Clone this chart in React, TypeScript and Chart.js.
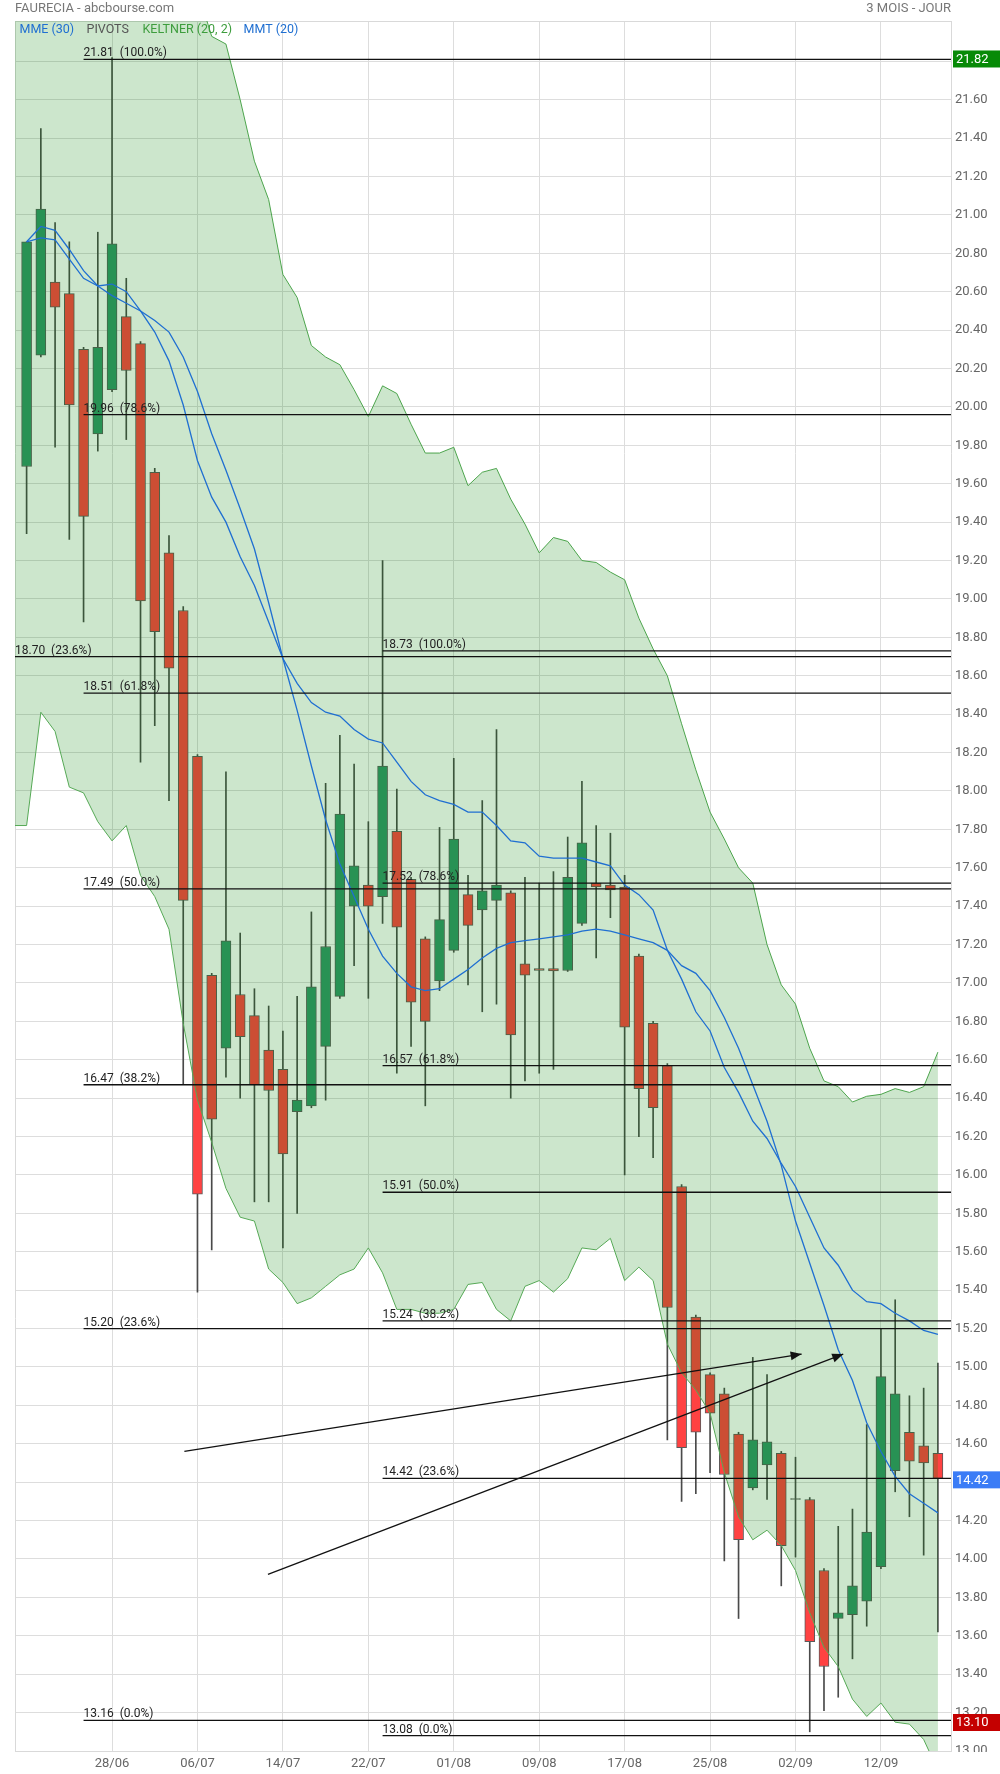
import React, { useEffect, useRef } from 'react';
import { Chart, registerables } from 'chart.js';

Chart.register(...registerables);

// ---- axis ranges -------------------------------------------------------
const X_MIN = -0.815;
const X_MAX = 64.92;
const Y_MIN = 13.0;
const Y_MAX = 22.01;

// ---- tick labels --------------------------------------------------------
const xTickIndex = [6, 12, 18, 24, 30, 36, 42, 48, 54, 60];
const xTickLabels = ['28/06', '06/07', '14/07', '22/07', '01/08', '09/08', '17/08', '25/08', '02/09', '12/09'];
const yTickValues = [
  13.0, 13.2, 13.4, 13.6, 13.8, 14.0, 14.2, 14.4, 14.6, 14.8, 15.0, 15.2, 15.4, 15.6, 15.8,
  16.0, 16.2, 16.4, 16.6, 16.8, 17.0, 17.2, 17.4, 17.6, 17.8, 18.0, 18.2, 18.4, 18.6, 18.8,
  19.0, 19.2, 19.4, 19.6, 19.8, 20.0, 20.2, 20.4, 20.6, 20.8, 21.0, 21.2, 21.4, 21.6, 21.8,
];

// ---- daily candles (20/06 .. 16/09) -------------------------------------
const candleOpen = [
  19.69, 20.27, 20.65, 20.59, 20.30, 19.86, 20.09, 20.47, 20.33, 19.66,
  19.24, 18.94, 18.18, 17.04, 16.66, 16.94, 16.83, 16.65, 16.55, 16.33,
  16.36, 16.67, 16.93, 17.40, 17.51, 17.45, 17.79, 17.54, 17.23, 17.01,
  17.17, 17.46, 17.38, 17.43, 17.47, 17.10, 17.075, 17.075, 17.065, 17.31,
  17.52, 17.51, 17.50, 17.14, 16.79, 16.57, 15.94, 15.26, 14.96, 14.86,
  14.65, 14.37, 14.49, 14.55, 14.315, 14.31, 13.94, 13.69, 13.71, 13.78,
  13.96, 14.46, 14.66, 14.59, 14.55,
];
const candleHigh = [
  20.86, 21.45, 20.96, 20.86, 20.31, 20.91, 21.82, 20.67, 20.34, 19.68,
  19.33, 18.96, 18.19, 17.05, 18.10, 17.26, 16.97, 16.88, 16.75, 16.93,
  17.37, 18.04, 18.29, 18.14, 17.84, 19.20, 18.01, 17.55, 17.24, 17.81,
  18.17, 17.56, 17.95, 18.32, 17.48, 17.55, 17.52, 17.58, 17.76, 18.05,
  17.82, 17.78, 17.56, 17.15, 16.80, 16.58, 15.95, 15.27, 14.97, 14.89,
  14.66, 15.05, 14.96, 14.56, 14.53, 14.32, 13.95, 14.17, 14.26, 14.70,
  15.20, 15.35, 14.85, 14.89, 15.02,
];
const candleLow = [
  19.34, 20.26, 19.79, 19.31, 18.88, 19.77, 20.08, 19.83, 18.15, 18.34,
  17.95, 16.47, 15.39, 15.61, 16.51, 16.40, 15.86, 15.86, 15.62, 15.80,
  16.35, 16.39, 16.92, 17.09, 16.92, 17.31, 16.53, 16.67, 16.36, 16.96,
  17.16, 16.99, 16.85, 16.89, 16.40, 16.49, 16.53, 16.55, 17.06, 17.30,
  17.13, 17.34, 16.00, 16.20, 16.09, 14.62, 14.30, 14.34, 14.45, 13.99,
  13.69, 14.36, 14.31, 13.86, 14.01, 13.10, 13.21, 13.28, 13.48, 13.65,
  13.95, 14.35, 14.22, 14.02, 13.62,
];
const candleClose = [
  20.86, 21.03, 20.52, 20.01, 19.43, 20.31, 20.85, 20.19, 18.99, 18.83,
  18.64, 17.43, 15.90, 16.29, 17.22, 16.72, 16.47, 16.44, 16.11, 16.39,
  16.98, 17.19, 17.88, 17.61, 17.40, 18.13, 17.29, 16.90, 16.80, 17.33,
  17.75, 17.30, 17.48, 17.51, 16.73, 17.04, 17.065, 17.063, 17.55, 17.73,
  17.50, 17.485, 16.77, 16.45, 16.35, 15.31, 14.58, 14.66, 14.76, 14.44,
  14.10, 14.62, 14.61, 14.07, 14.31, 13.57, 13.44, 13.72, 13.86, 14.14,
  14.95, 14.86, 14.51, 14.50, 14.42,
];

// ---- Keltner (20, 2) -----------------------------------------------------
const keltnerUpper = [
  22.90, 22.85, 22.80, 22.75, 22.70, 22.65, 22.60, 22.55, 22.50, 22.45,
  22.40, 22.30, 22.17, 21.93, 21.89, 21.60, 21.28, 21.08, 20.69, 20.57,
  20.32, 20.26, 20.22, 20.09, 19.95, 20.11, 20.07, 19.91, 19.76, 19.76,
  19.79, 19.59, 19.66, 19.68, 19.52, 19.39, 19.24, 19.32, 19.30, 19.20,
  19.19, 19.14, 19.10, 18.90, 18.74, 18.60, 18.35, 18.11, 17.89, 17.75,
  17.60, 17.52, 17.20, 16.99, 16.89, 16.66, 16.49, 16.46, 16.38, 16.41,
  16.42, 16.45, 16.43, 16.46, 16.64,
];
const keltnerLower = [
  17.82, 18.41, 18.31, 18.02, 17.99, 17.84, 17.74, 17.82, 17.56, 17.45,
  17.28, 16.79, 16.39, 16.17, 15.93, 15.78, 15.76, 15.51, 15.44, 15.33,
  15.36, 15.42, 15.48, 15.51, 15.62, 15.49, 15.30, 15.30, 15.28, 15.28,
  15.30, 15.43, 15.44, 15.30, 15.24, 15.42, 15.45, 15.39, 15.46, 15.62,
  15.61, 15.67, 15.45, 15.52, 15.45, 15.12, 14.97, 14.88, 14.76, 14.45,
  14.22, 14.10, 14.15, 14.07, 13.94, 13.72, 13.54, 13.44, 13.27, 13.18,
  13.25, 13.15, 13.14, 13.06, 12.90,
];

// ---- moving averages ----------------------------------------------------
const mme30 = [
  20.86, 20.94, 20.92, 20.82, 20.71, 20.63, 20.64, 20.60, 20.50, 20.39,
  20.24, 20.01, 19.72, 19.53, 19.40, 19.22, 19.07, 18.88, 18.69, 18.56,
  18.46, 18.41, 18.39, 18.32, 18.27, 18.25, 18.15, 18.05, 17.98, 17.95,
  17.93, 17.89, 17.89, 17.82, 17.74, 17.73, 17.66, 17.65, 17.65, 17.65,
  17.63, 17.61, 17.51, 17.46, 17.38, 17.17, 17.02, 16.85, 16.75, 16.56,
  16.43, 16.28, 16.19, 16.06, 15.94, 15.78, 15.62, 15.53, 15.40, 15.34,
  15.33, 15.28, 15.24, 15.19, 15.17,
];
const mmt20 = [
  20.86, 20.88, 20.87, 20.77, 20.67, 20.63, 20.58, 20.54, 20.50, 20.45,
  20.39, 20.26, 20.08, 19.86, 19.67, 19.47, 19.26, 18.98, 18.69, 18.42,
  18.13, 17.85, 17.62, 17.45, 17.28, 17.14, 17.05, 16.98, 16.96, 16.97,
  17.02, 17.07, 17.13, 17.18, 17.21, 17.22, 17.23, 17.24, 17.25, 17.27,
  17.28, 17.27, 17.25, 17.23, 17.21, 17.17, 17.09, 17.05, 16.96, 16.82,
  16.66, 16.47, 16.28, 16.05, 15.76, 15.54, 15.32, 15.09, 14.93, 14.71,
  14.56, 14.43, 14.34, 14.29, 14.24,
];

// ---- pivots (Fibonacci retracements) --------------------------------------
const fibPct = ['100.0%', '78.6%', '61.8%', '50.0%', '38.2%', '23.6%', '0.0%'];
const fibSet1Start = 4;
const fibSet1Values = [21.81, 19.96, 18.51, 17.49, 16.47, 15.2, 13.16];
const fibSet2Start = 25;
const fibSet2Values = [18.73, 17.52, 16.57, 15.91, 15.24, 14.42, 13.08];
const fibEdgeValues = [18.7];
const fibEdgePct = ['23.6%'];

// ---- hand-drawn arrows (index, price) -----------------------------------
const arrowFromX = [11.08, 16.95];
const arrowFromY = [14.56, 13.92];
const arrowToX = [54.43, 57.35];
const arrowToY = [15.067, 15.067];

// ---- right-side price badges --------------------------------------------
const badgeValues = [21.82, 14.42, 13.1];
const badgeColors = ['#078a07', '#3b7cf6', '#c40000'];

const GREEN = '#33966a';
const RED = '#ff4242';
const FONT = 'Roboto, "Noto Sans", sans-serif';

export default function App() {
  const ref = useRef<HTMLCanvasElement>(null);

  useEffect(() => {
    const canvas = ref.current;
    if (!canvas) return;
    const idx = candleOpen.map((_, i) => i);
    const bodyColors = candleOpen.map((o, i) =>
      Math.abs(candleClose[i] - o) < 0.006 ? '#555555' : candleClose[i] >= o ? GREEN : RED
    );

    const fibLine = (start: number, v: number) => ({
      type: 'line',
      data: [
        { x: start, y: v },
        { x: X_MAX, y: v },
      ],
      borderColor: '#111111',
      borderWidth: 1.3,
      pointRadius: 0,
      fill: false,
      order: 1,
    });

    const datasets: any[] = [
      {
        type: 'bar',
        label: 'wicks',
        data: idx.map((i) => ({ x: i, y: [candleLow[i], candleHigh[i]] })),
        backgroundColor: '#4a4a4a',
        borderWidth: 0,
        barThickness: 1,
        grouped: false,
        order: 10,
      },
      {
        type: 'bar',
        label: 'bodies',
        data: idx.map((i) => ({ x: i, y: [candleOpen[i], candleClose[i]] })),
        backgroundColor: bodyColors,
        borderColor: '#5a5a5a',
        borderWidth: 1,
        borderSkipped: false,
        barThickness: 10,
        grouped: false,
        order: 9,
      },
      {
        type: 'line',
        label: 'keltnerUp',
        data: [{ x: X_MIN, y: keltnerUpper[0] }, ...idx.map((i) => ({ x: i, y: keltnerUpper[i] }))],
        borderColor: '#56a956',
        borderWidth: 1,
        pointRadius: 0,
        fill: false,
        tension: 0,
        order: 5,
      },
      {
        type: 'line',
        label: 'keltnerLow',
        data: [{ x: X_MIN, y: keltnerLower[0] }, ...idx.map((i) => ({ x: i, y: keltnerLower[i] }))],
        borderColor: '#56a956',
        borderWidth: 1,
        pointRadius: 0,
        fill: '-1',
        backgroundColor: 'rgba(0,128,0,0.2)',
        tension: 0,
        order: 4,
      },
      {
        type: 'line',
        label: 'MME (30)',
        data: idx.map((i) => ({ x: i, y: mme30[i] })),
        borderColor: '#1f6fd1',
        borderWidth: 1.3,
        pointRadius: 0,
        fill: false,
        order: 2,
      },
      {
        type: 'line',
        label: 'MMT (20)',
        data: idx.map((i) => ({ x: i, y: mmt20[i] })),
        borderColor: '#1f6fd1',
        borderWidth: 1.3,
        pointRadius: 0,
        fill: false,
        order: 2,
      },
      ...fibSet1Values.map((v) => fibLine(fibSet1Start, v)),
      ...fibSet2Values.map((v) => fibLine(fibSet2Start, v)),
      ...fibEdgeValues.map((v) => fibLine(X_MIN, v)),
      ...arrowFromX.map((fx, k) => ({
        type: 'line',
        data: [
          { x: fx, y: arrowFromY[k] },
          { x: arrowToX[k], y: arrowToY[k] },
        ],
        borderColor: '#111111',
        borderWidth: 1.3,
        pointRadius: 0,
        fill: false,
        order: 0,
      })),
    ];

    const decor = {
      id: 'decor',
      beforeDatasetsDraw(chart: any) {
        const { ctx, chartArea: a } = chart;
        ctx.save();
        ctx.strokeStyle = '#d9d9d9';
        ctx.lineWidth = 1;
        ctx.beginPath();
        ctx.moveTo(a.left + 0.5, a.top);
        ctx.lineTo(a.left + 0.5, a.bottom);
        ctx.moveTo(a.left, a.top + 0.5);
        ctx.lineTo(a.right, a.top + 0.5);
        ctx.stroke();
        ctx.restore();
      },
      afterDatasetsDraw(chart: any) {
        const { ctx } = chart;
        const xs = chart.scales.x;
        const ys = chart.scales.y;
        ctx.save();
        ctx.fillStyle = '#222222';
        ctx.font = `12px ${FONT}`;
        ctx.textAlign = 'left';
        ctx.textBaseline = 'alphabetic';
        const label = (start: number, v: number, pct: string) => {
          const x = xs.getPixelForValue(start);
          const y = ys.getPixelForValue(v);
          ctx.fillText(`${v.toFixed(2)}  (${pct})`, x, y - 3);
        };
        fibSet1Values.forEach((v, k) => label(fibSet1Start, v, fibPct[k]));
        fibSet2Values.forEach((v, k) => label(fibSet2Start, v, fibPct[k]));
        fibEdgeValues.forEach((v, k) => label(X_MIN, v, fibEdgePct[k]));

        // arrow heads
        ctx.fillStyle = '#111111';
        arrowFromX.forEach((fx, k) => {
          const x1 = xs.getPixelForValue(fx);
          const y1 = ys.getPixelForValue(arrowFromY[k]);
          const x2 = xs.getPixelForValue(arrowToX[k]);
          const y2 = ys.getPixelForValue(arrowToY[k]);
          const ang = Math.atan2(y2 - y1, x2 - x1);
          const len = 11;
          const hw = 4.5;
          const bx = x2 - len * Math.cos(ang);
          const by = y2 - len * Math.sin(ang);
          ctx.beginPath();
          ctx.moveTo(x2, y2);
          ctx.lineTo(bx + hw * Math.sin(ang), by - hw * Math.cos(ang));
          ctx.lineTo(bx - hw * Math.sin(ang), by + hw * Math.cos(ang));
          ctx.closePath();
          ctx.fill();
        });
        ctx.restore();
      },
      afterDraw(chart: any) {
        const { ctx, chartArea: a } = chart;
        const ys = chart.scales.y;
        ctx.save();
        // clip price labels below the plot bottom
        ctx.fillStyle = '#ffffff';
        ctx.fillRect(a.right + 1, a.bottom + 1, 1000 - a.right, 30);

        ctx.textBaseline = 'middle';
        ctx.font = `13px ${FONT}`;
        ctx.fillStyle = '#777777';
        ctx.textAlign = 'left';
        ctx.fillText('FAURECIA - abcbourse.com', 15, 8.5);
        ctx.textAlign = 'right';
        ctx.fillText('3 MOIS - JOUR', a.right, 8.5);

        // legend
        ctx.textAlign = 'left';
        ctx.font = `12.5px ${FONT}`;
        const legend: [string, string, number][] = [
          ['MME (30)', '#1f6fd1', 19.5],
          ['PIVOTS', '#555555', 86.5],
          ['KELTNER (20, 2)', '#3d9d3d', 142.5],
          ['MMT (20)', '#1f6fd1', 243.5],
        ];
        legend.forEach(([t, c, x]) => {
          ctx.fillStyle = c;
          ctx.fillText(t, x, 29.5);
        });

        // badges
        ctx.font = `13px ${FONT}`;
        badgeValues.forEach((v, k) => {
          const yp = Math.min(ys.getPixelForValue(v) + 1.5, a.bottom - 28.5);
          ctx.fillStyle = badgeColors[k];
          ctx.fillRect(a.right + 2, yp - 8.5, 1000 - a.right - 2, 17);
          ctx.fillStyle = '#ffffff';
          ctx.fillText(v.toFixed(2), a.right + 5, yp + 0.5);
        });
        ctx.restore();
      },
    };

    const chart = new Chart(canvas, {
      type: 'bar',
      data: { datasets },
      options: {
        animation: false,
        responsive: false,
        maintainAspectRatio: false,
        devicePixelRatio: 1,
        events: [],
        layout: { padding: { left: 15, top: 21, right: 0, bottom: 0 } },
        plugins: {
          legend: { display: false },
          title: { display: false },
          tooltip: { enabled: false },
        },
        scales: {
          x: {
            type: 'linear',
            min: X_MIN,
            max: X_MAX,
            offset: false,
            grid: { color: '#dddddd', drawTicks: false, offset: false },
            border: { display: true, color: '#d9d9d9' },
            afterBuildTicks: (s: any) => {
              s.ticks = xTickIndex.map((v) => ({ value: v }));
            },
            afterFit: (s: any) => {
              s.height = 23;
            },
            ticks: {
              autoSkip: false,
              maxRotation: 0,
              padding: 5,
              color: '#666666',
              font: { family: FONT, size: 13 },
              callback: (v: any) => {
                const k = xTickIndex.indexOf(Number(v));
                return k >= 0 ? xTickLabels[k] : '';
              },
            },
          },
          y: {
            type: 'linear',
            position: 'right',
            min: Y_MIN,
            max: Y_MAX,
            grid: { color: '#dddddd', drawTicks: false },
            border: { display: true, color: '#d9d9d9' },
            afterBuildTicks: (s: any) => {
              s.ticks = yTickValues.map((v) => ({ value: v }));
            },
            afterFit: (s: any) => {
              s.width = 49;
            },
            ticks: {
              padding: 4,
              color: '#666666',
              font: { family: FONT, size: 13 },
              callback: (v: any) => Number(v).toFixed(2),
            },
          },
        },
      } as any,
      plugins: [decor],
    });

    return () => chart.destroy();
  }, []);

  return (
    <div style={{ position: 'absolute', left: 0, top: 0, width: 1000, height: 1774, background: '#ffffff' }}>
      <canvas ref={ref} width={1000} height={1774} style={{ display: 'block', width: 1000, height: 1774 }} />
    </div>
  );
}
